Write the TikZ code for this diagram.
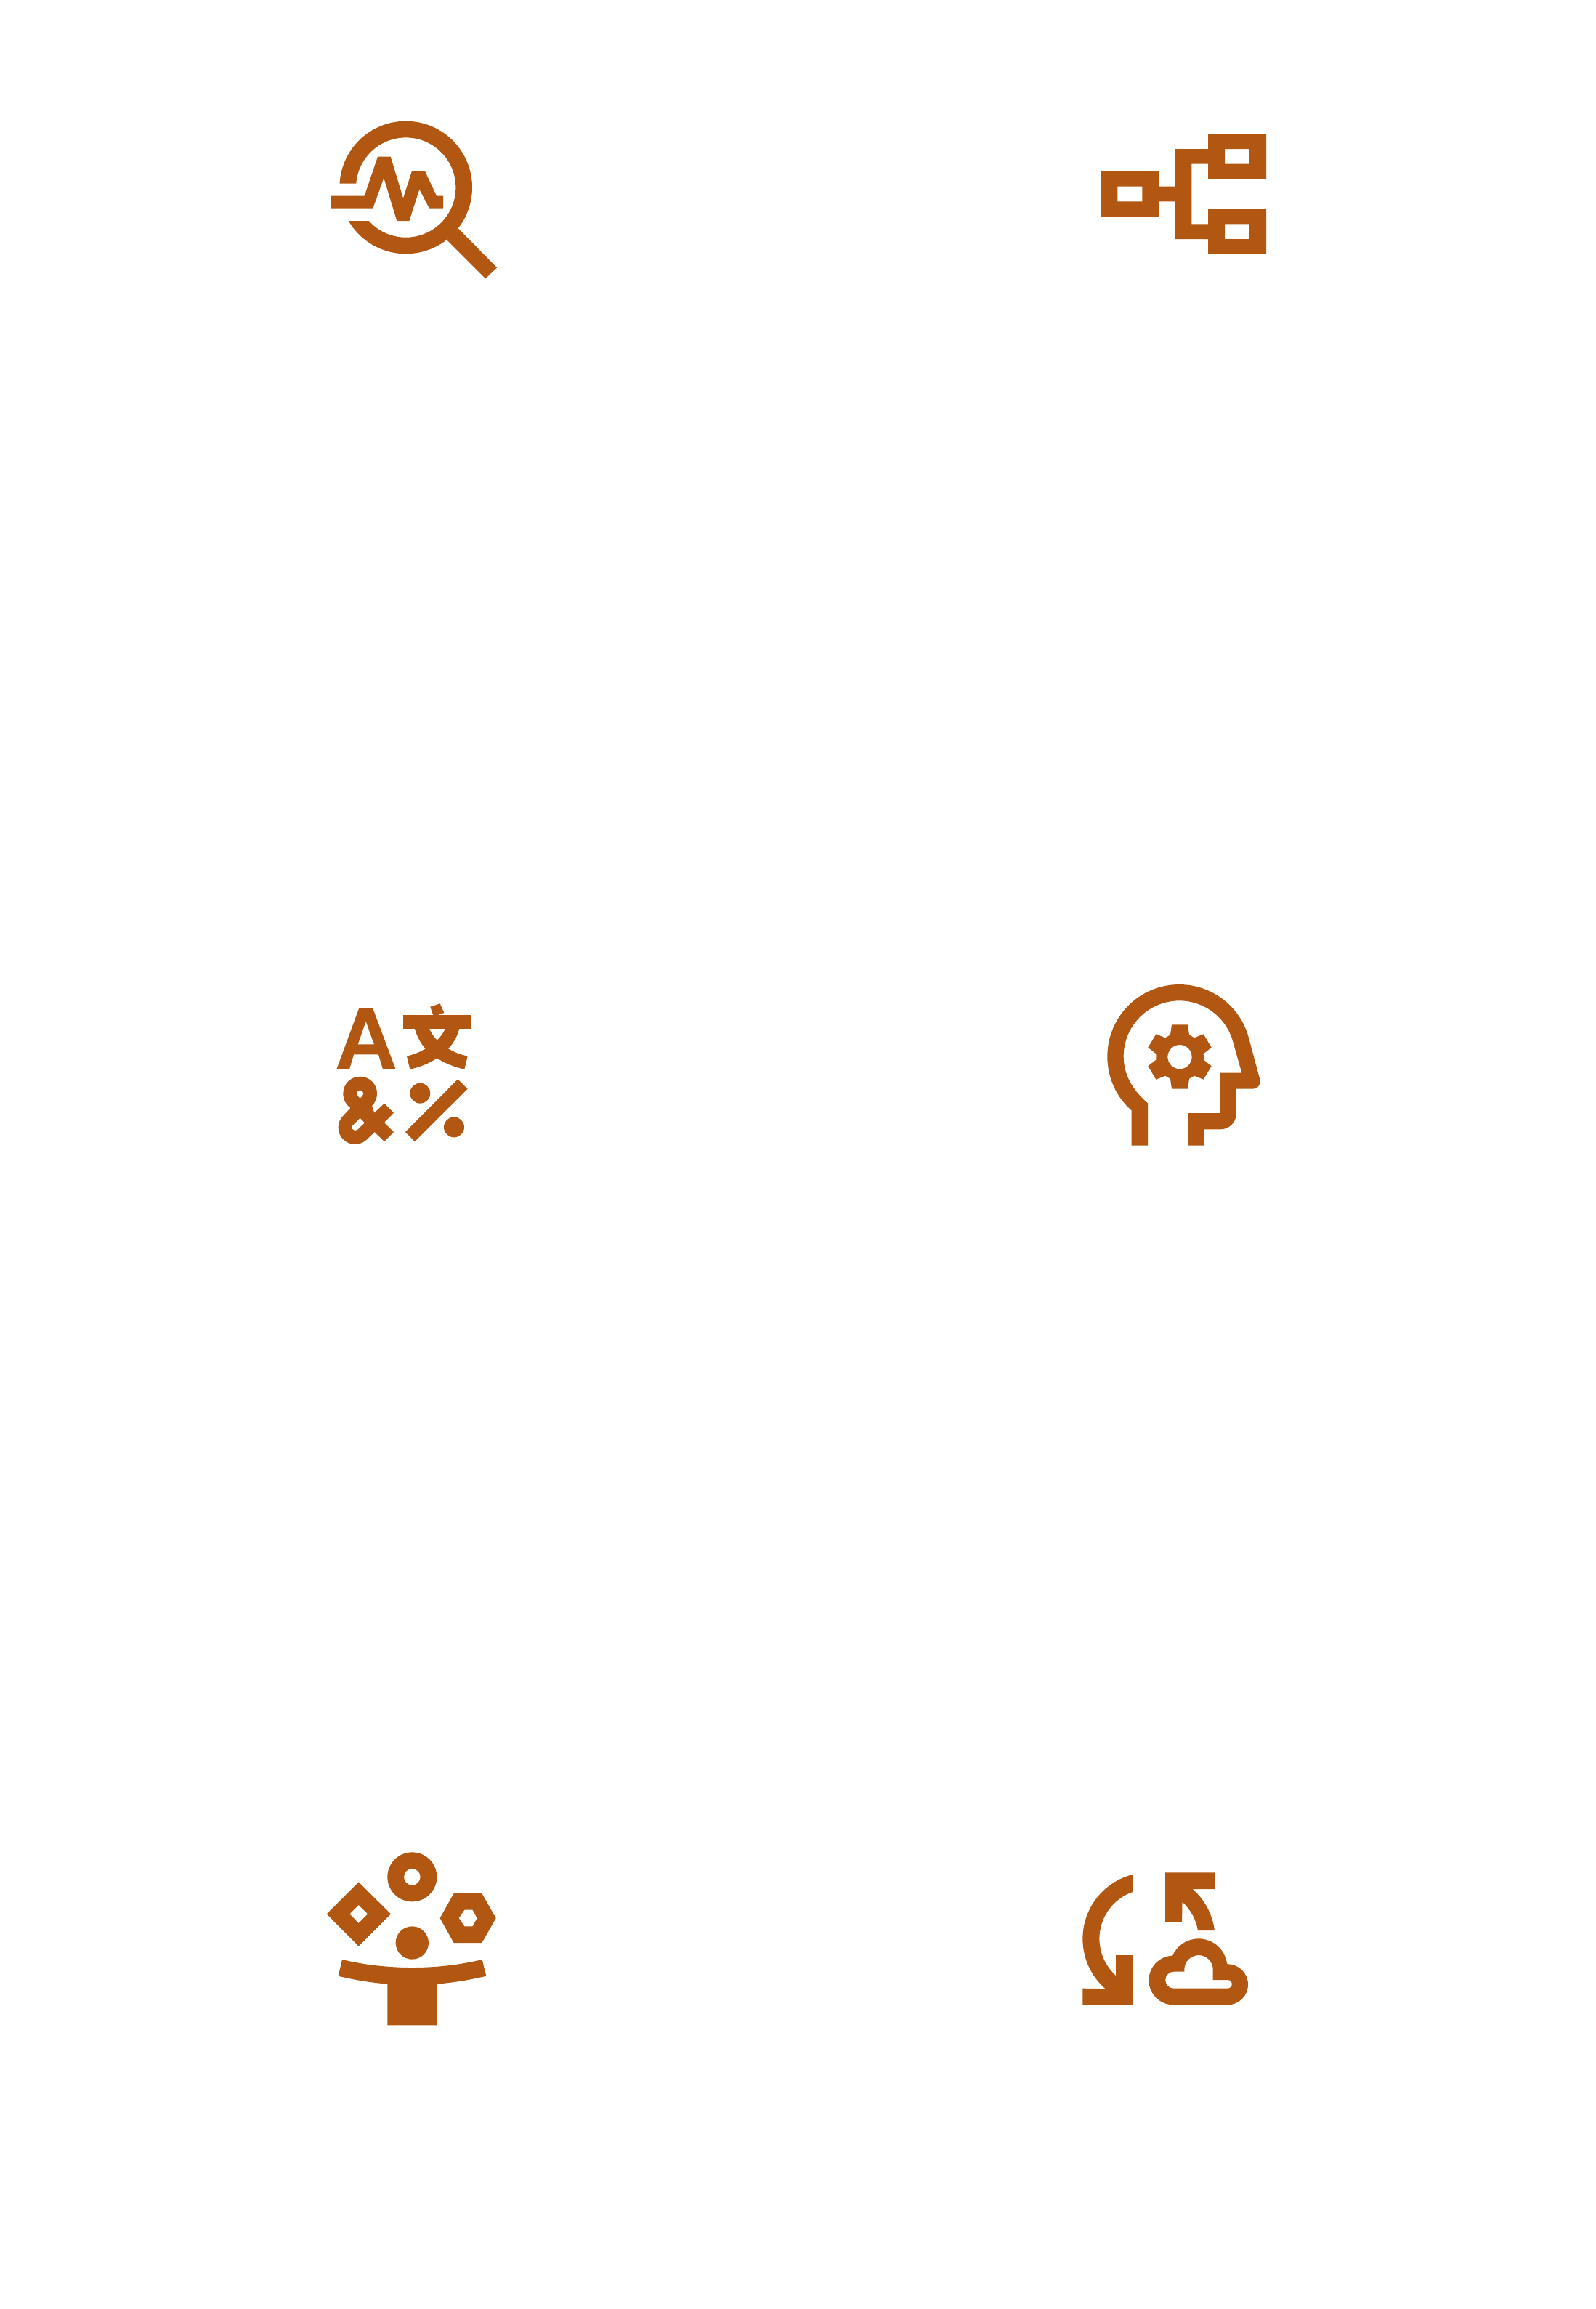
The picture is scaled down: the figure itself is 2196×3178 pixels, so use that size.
\documentclass[tikz,border=0pt]{standalone}
\definecolor{iconbrown}{HTML}{B25711}
\tikzset{
	glyph/.style={fill=iconbrown,draw=none,even odd rule},
	zoomed/.style={shift={#1},scale=1/3}
}
\begin{document}
\begin{tikzpicture}[x=0.01cm,y=-0.01cm]
	\useasboundingbox (0,0) rectangle (2196,3178);
	% magnifier
	\begin{scope}[zoomed={(420,140)}]
		\fill[glyph] (142.5,338) arc[start angle=183.35,end angle=509.7,radius=274] -- (263,492) arc[start angle=498,end angle=184.46,radius=206] -- cycle;
		\fill[glyph] (585,570) -- (745,730) -- (792,685) -- (632,523) -- cycle;
		\fill[glyph] (107,389) -- (245,389) -- (300,227) -- (353,227) -- (405,398) -- (441,287) -- (495,287) -- (543,389) -- (570,389) -- (570,440) -- (513,440) -- (472,362) -- (430,492) -- (379,492) -- (325,315) -- (280,440) -- (107,440) -- cycle;
	\end{scope}
	% tree
	\begin{scope}[zoomed={(1480,160)}]
		\fill[glyph] (106,228) rectangle (345,414) (175,290) rectangle (277,352);
		\fill[glyph] (549,73) rectangle (789,259) (618,135) rectangle (720,197);
		\fill[glyph] (549,383) rectangle (789,569) (618,445) rectangle (720,507);
		\fill[glyph] (345,290) -- (413,290) -- (413,135) -- (549,135) -- (549,197) -- (481,197) -- (481,445) -- (549,445) -- (549,507) -- (413,507) -- (413,352) -- (345,352) -- cycle;
	\end{scope}
	% letters and symbols
	\begin{scope}[zoomed={(430,1350)}]
		\fill[glyph] (100,365) -- (193,112) -- (249,112) -- (344,365) -- (291,365) -- (273,304) -- (171,304) -- (153,365) -- cycle (188,262) -- (255,262) -- (221,167) -- cycle;
		\fill[glyph] (374,142) rectangle (656,197);
		\fill[glyph] (487,107) -- (527,94) -- (544,132) -- (516,142) -- (499,142) -- cycle;
		\fill[glyph] (423,197) .. controls (432,230) and (447,258) .. (467,280) .. controls (445,294) and (420,304) .. (390,311) -- (403,365) .. controls (445,356) and (482,341) .. (515,319) .. controls (548,341) and (587,356) .. (628,365) -- (641,311) .. controls (610,304) and (584,294) .. (561,280) .. controls (583,258) and (598,230) .. (607,197) -- (549,197) .. controls (541,215) and (530,231) .. (515,245) .. controls (501,231) and (490,215) .. (483,197) -- cycle;
		\fill[glyph] (127,465) arc[start angle=180,end angle=360,radius=70] .. controls (267,485) and (259,503) .. (246,516) -- (256,545) -- (297,506) -- (336,545) -- (297,585) -- (336,624) -- (297,663) -- (257,624) -- (226,654) .. controls (213,667) and (195,675) .. (177,675) .. controls (138,675) and (107,644) .. (107,605) .. controls (107,586) and (115,569) .. (128,556) -- (157,525) .. controls (139,512) and (127,490) .. (127,465) -- cycle
			(183,465) arc[start angle=180,end angle=360,radius=14] .. controls (211,472) and (205,478) .. (197,485) .. controls (189,478) and (183,472) .. (183,465) -- cycle
			(197,566) -- (216,586) -- (187,614) .. controls (177,622) and (163,615) .. (163,605) .. controls (163,600) and (165,597) .. (168,595) -- cycle;
		\fill[glyph] (445,464) circle[radius=42];
		\fill[glyph] (585,604) circle[radius=42];
		\fill[glyph] (384,624) -- (601,406) -- (641,446) -- (423,663) -- cycle;
	\end{scope}
	% head with gear
	\begin{scope}[zoomed={(1490,1320)}]
		\fill[glyph] (203,770) -- (203,625) .. controls (140,570) and (103,490) .. (103,402) arc[start angle=180,end angle=345,radius=297] -- (733,497) .. controls (739,520) and (722,536) .. (700,536) -- (635,536) -- (635,640) .. controls (635,675) and (605,703) .. (570,703) -- (501,703) -- (501,770) -- (435,770) -- (435,636) -- (568,636) -- (568,470) -- (658,470) -- (622.2,342.5) arc[start angle=345,end angle=180,radius=230] .. controls (170,475) and (205,540) .. (270,595) -- (270,770) -- cycle;
		\fill[glyph] (369,271) -- (435,271) -- (441,313) -- (462,325) -- (500,310) -- (533,365) -- (500,391) -- (501,416) -- (533,442) -- (500,497) -- (462,482) -- (441,494) -- (435,536) -- (369,536) -- (363,494) -- (342,482) -- (304,497) -- (271,442) -- (304,416) -- (304,391) -- (271,365) -- (304,310) -- (342,325) -- (363,313) -- cycle (402,404) circle[radius=50];
	\end{scope}
	% juggling
	\begin{scope}[zoomed={(430,2510)}]
		\fill[glyph] (412,220) circle[radius=102] (412,220) circle[radius=34];
		\fill[glyph] (191,241) -- (324,373) -- (191,506) -- (59,373) -- cycle (191,336) -- (229,373) -- (191,411) -- (154,373) -- cycle;
		\fill[glyph] (527,390) -- (584,288) -- (700,288) -- (758,390) -- (700,492) -- (584,492) -- cycle (605,390) -- (628,356) -- (662,356) -- (680,390) -- (662,424) -- (628,424) -- cycle;
		\fill[glyph] (412,492) circle[radius=68];
		\fill[glyph] (123,561) .. controls (215,583) and (312,594) .. (412,594) .. controls (512,594) and (609,583) .. (701,561) -- (718,629) .. controls (651,645) and (584,656) .. (514,662) -- (514,832) -- (310,832) -- (310,662) .. controls (240,656) and (173,645) .. (107,629) -- cycle;
	\end{scope}
	% cloud sync
	\begin{scope}[zoomed={(1460,2540)}]
		\fill[glyph] (297,120) arc[start angle=255.6,end angle=131.3,radius=274] -- (91,590) -- (91,658) -- (297,658) -- (297,453) -- (228,453) -- (228,537) arc[start angle=132,end angle=250.6,radius=204.6] -- cycle;
		\fill[glyph] (432,112) -- (638,112) -- (638,180) -- (545,180) arc[start angle=311.3,end angle=352.85,radius=273] -- (567,351) arc[start angle=350.45,end angle=312.2,radius=204.6] -- (501,317) -- (432,317) -- cycle;
		\fill[glyph] (465.7,658) -- (690,658) arc[start angle=90,end angle=-90,radius=84] -- (687.1,488.6) arc[start angle=353,end angle=204,radius=118] arc[start angle=268,end angle=90,radius=101.5] -- cycle
			(467,590) -- (690,590) arc[start angle=90,end angle=-90,radius=17.5] -- (629,555) -- (629,512) arc[start angle=0,end angle=-180,radius=59] -- (511,521) -- (467,521) arc[start angle=270,end angle=90,radius=34.5] -- cycle;
	\end{scope}
\end{tikzpicture}
\end{document}
